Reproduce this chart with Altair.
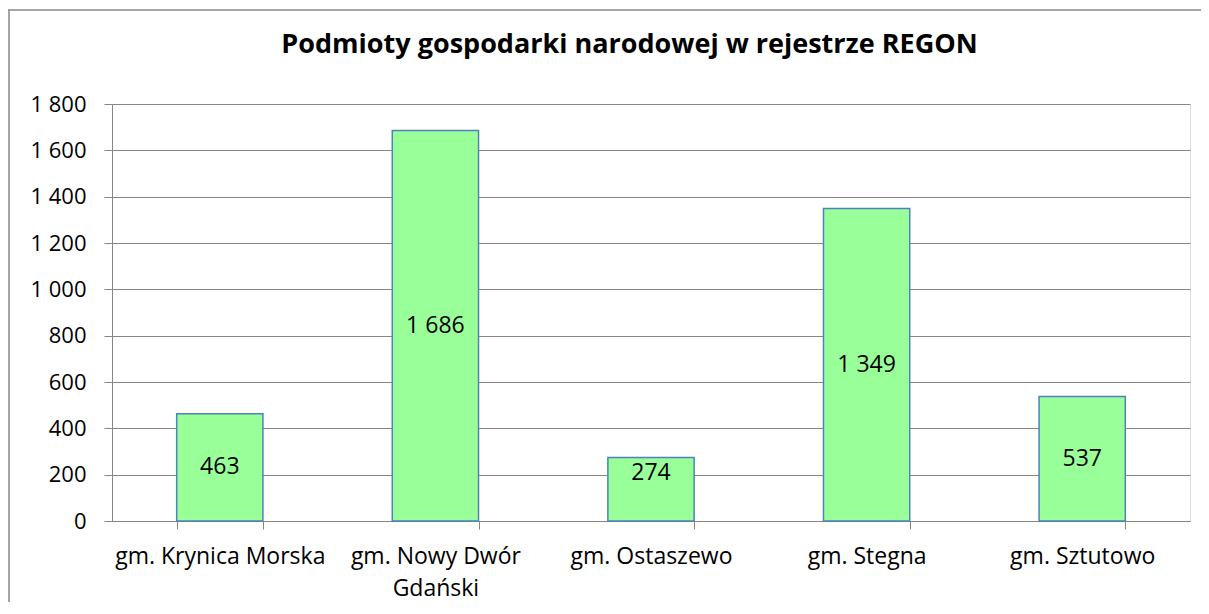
import altair as alt
import pandas as pd

categories = [
    "gm. Krynica Morska",
    "gm. Nowy Dwór Gdański",
    "gm. Ostaszewo",
    "gm. Stegna",
    "gm. Sztutowo",
]
values = [463, 1686, 274, 1349, 537]
y_ticks = [0, 200, 400, 600, 800, 1000, 1200, 1400, 1600, 1800]
title_text = "Podmioty gospodarki narodowej w rejestrze REGON"

FONT = "Open Sans"
GRID = "#868686"

df = pd.DataFrame({"gmina": categories, "value": values})

fmt = "replace(format(datum.value, ','), ',', ' ')"
wrap = "datum.label == 'gm. Nowy Dwór Gdański' ? ['gm. Nowy Dwór', 'Gdański'] : datum.label"

x_enc = alt.X(
    "gmina:N",
    sort=categories,
    title=None,
    scale=alt.Scale(paddingInner=0.6, paddingOuter=0.3),
    axis=alt.Axis(
        labelAngle=0,
        tickBand="extent",
        tickSize=8,
        tickColor=GRID,
        domainColor=GRID,
        labelPadding=34,
        labelBaseline="alphabetic",
        labelLineHeight=32,
        labelExpr=wrap,
        labelFont=FONT,
        labelFontSize=23,
        labelColor="#000000",
        labelLimit=0,
        grid=False,
    ),
)

y_enc = alt.Y(
    "value:Q",
    title=None,
    scale=alt.Scale(domain=[0, 1800], nice=False),
    axis=alt.Axis(
        values=y_ticks,
        labelExpr=fmt,
        tickSize=8,
        tickColor=GRID,
        domainColor=GRID,
        gridColor=GRID,
        gridWidth=1,
        labelPadding=18,
        labelFont=FONT,
        labelFontSize=22,
        labelColor="#000000",
    ),
)

bars = alt.Chart(df).mark_bar(
    fill="#99FF99", stroke="#4F81BD", strokeWidth=1.5
).encode(x=x_enc, y=y_enc)

labels = (
    alt.Chart(df)
    .transform_calculate(label=fmt, label_y="max(datum.value / 2, 207)")
    .mark_text(font=FONT, fontSize=23, color="#000000", baseline="middle", align="center")
    .encode(
        x=alt.X("gmina:N", sort=categories),
        y=alt.Y("label_y:Q"),
        text="label:N",
    )
)

one = alt.Data(values=[{}])
frame_top = (
    alt.Chart(one)
    .mark_rule(color="#898989", strokeWidth=1.5)
    .encode(x=alt.value(-103.75), x2=alt.value(1300), y=alt.value(-94))
)
frame_left = (
    alt.Chart(one)
    .mark_rule(color="#898989", strokeWidth=1.5)
    .encode(x=alt.value(-103), y=alt.value(-94.75), y2=alt.value(700))
)

chart = (
    alt.layer(frame_top, frame_left, bars, labels)
    .properties(
        width=1078,
        height=417,
        title=alt.Title(
            title_text,
            font=FONT,
            fontSize=27,
            fontWeight="bold",
            color="#000000",
            anchor="middle",
            frame="group",
            dx=-21.5,
            offset=-71,
            baseline="alphabetic",
        ),
        autosize=alt.AutoSizeParams(type="none"),
        padding={"left": 104, "top": 96, "right": 11, "bottom": 81},
    )
    .configure_view(stroke=None)
    .configure(background="white")
)

chart.save("out.html", embed_options={"renderer": "svg", "actions": False})
